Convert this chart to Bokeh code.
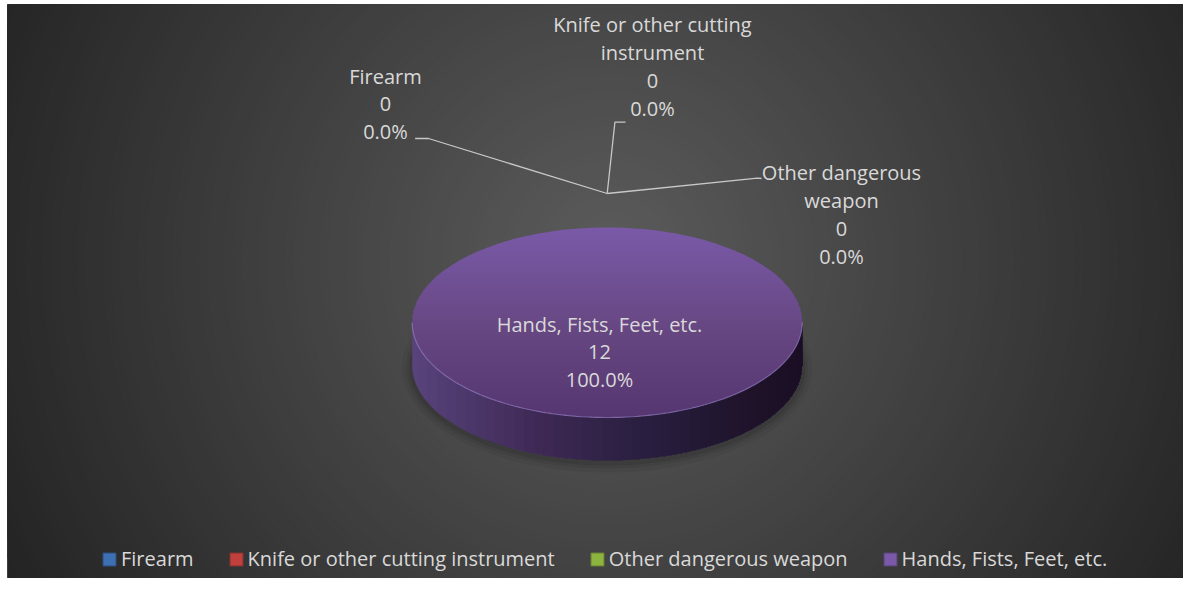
import math
import textwrap
import numpy as np
from bokeh.plotting import figure
from bokeh.models import Range1d, Legend, LegendItem
from bokeh.core.properties import value
from bokeh.embed import file_html
from bokeh.resources import INLINE

# ---------------- data ----------------
categories = ["Firearm", "Knife or other cutting instrument",
              "Other dangerous weapon", "Hands, Fists, Feet, etc."]
counts = [0, 0, 0, 12]
colors = ["#3d6fb3", "#c0403d", "#8db43e", "#7a5aa8"]

# ---------------- layout / style ----------------
W, H = 1183, 578
BL, BT = 7, 4          # white border left / top
FONT = "Open Sans"
FS = "20px"
TXT = "#d9d9d9"

pie_cx, pie_cy, pie_rx, pie_ry, pie_depth = 606.7, 322.0, 195.0, 95.0, 43.0
label_pos = [(385, 103.5), (652, 66), (841, 214), (599, 351.5)]
label_wrap = [30, 22, 16, 30]
leader_paths = [[(414.6, 138), (428, 138)],
                [(625, 121.7), (614.4, 121.7)],
                [(761, 178), (757, 177.7)],
                None]
leader_anchor = (606.7, 193.0)


def hex2rgb(h):
    h = h.lstrip("#")
    return tuple(int(h[i:i + 2], 16) for i in (0, 2, 4))


def rgb2hex(c):
    return "#%02x%02x%02x" % tuple(int(max(0, min(255, round(v)))) for v in c)


def scale(h, f):
    return rgb2hex([v * f for v in hex2rgb(h)])


p = figure(width=W, height=H, x_range=Range1d(BL, W), y_range=Range1d(H, BT),
           output_backend="svg", toolbar_location=None, x_axis_type=None, y_axis_type=None,
           min_border_left=BL, min_border_top=BT, min_border_right=0, min_border_bottom=0)
p.grid.visible = False
p.outline_line_color = None
p.background_fill_color = "#232323"
p.border_fill_color = "white"

# ---------------- radial background ----------------
gcx, gcy, GR = 610.0, 260.0, 690.0
radii = np.linspace(GR, 5, 80)
gcols = []
for r in radii:
    t = min(r / 680.0, 1.0)
    v = 92 - 56 * t
    gcols.append(rgb2hex((v, v, v)))
p.circle(x=[gcx] * len(radii), y=[gcy] * len(radii), radius=list(radii),
         fill_color=gcols, line_color=None)

# ---------------- pie geometry ----------------
cx, cy, rx, ry, dep = pie_cx, pie_cy, pie_rx, pie_ry, pie_depth


def pt(phi, dy=0.0):
    return cx + rx * math.sin(phi), cy - ry * math.cos(phi) + dy


total = float(sum(counts))
angles = []
acc = 0.0
for c in counts:
    a0 = acc / total * 2 * math.pi
    acc += c
    a1 = acc / total * 2 * math.pi
    angles.append((a0, a1))

# soft shadow under pie
for grow, al in [(10, 0.05), (6, 0.07), (3, 0.09)]:
    sx, sy = [], []
    for j in range(121):
        ph = j / 120 * 2 * math.pi
        sx.append(cx + (rx + grow) * math.sin(ph))
        sy.append(cy + dep + 2 - (ry + grow) * math.cos(ph))
    p.patch(sx, sy, fill_color="black", fill_alpha=al, line_color=None)

# side walls (front half only)
front0, front1 = math.pi / 2, 3 * math.pi / 2
for (a0, a1), c, v in zip(angles, colors, counts):
    if v <= 0:
        continue
    s, e = max(a0, front0), min(a1, front1)
    if e <= s:
        continue
    n = 80
    xs, ys = [], []
    for j in range(n + 1):
        x, y = pt(s + (e - s) * j / n)
        xs.append(x); ys.append(y)
    for j in range(n, -1, -1):
        x, y = pt(s + (e - s) * j / n, dep)
        xs.append(x); ys.append(y)
    p.patch(xs, ys, fill_color=scale(c, 0.74), line_color=None)

# side shading: darker towards the right
NS = 40
for k in range(NS):
    u = -1 + 2 * (k + 0.5) / NS
    phk = math.pi - math.asin(u)
    n = 40
    xs, ys = [], []
    for j in range(n + 1):
        x, y = pt(front0 + (phk - front0) * j / n)
        xs.append(x); ys.append(y)
    for j in range(n, -1, -1):
        x, y = pt(front0 + (phk - front0) * j / n, dep)
        xs.append(x); ys.append(y)
    p.patch(xs, ys, fill_color="black", fill_alpha=0.0223, line_color=None)

# top faces
for (a0, a1), c, v in zip(angles, colors, counts):
    if v <= 0:
        continue
    n = max(8, int(160 * (a1 - a0) / (2 * math.pi)))
    xs, ys = [], []
    if v < total:
        xs.append(cx); ys.append(cy)
    for j in range(n + 1):
        x, y = pt(a0 + (a1 - a0) * j / n)
        xs.append(x); ys.append(y)
    p.patch(xs, ys, fill_color=c, line_color=None)

# top shading: darker towards the bottom
NT = 36
for k in range(NT):
    yk = cy - ry + 2 * ry * (k + 0.5) / NT
    cc = max(-1.0, min(1.0, (cy - yk) / ry))
    a = math.acos(cc)
    n = 60
    xs, ys = [], []
    for j in range(n + 1):
        x, y = pt(a + (2 * math.pi - 2 * a) * j / n)
        xs.append(x); ys.append(y)
    p.patch(xs, ys, fill_color="black", fill_alpha=0.0075, line_color=None)

# rim highlight on front edge
rxs, rys = [], []
for j in range(121):
    x, y = pt(front0 + (front1 - front0) * j / 120)
    rxs.append(x); rys.append(y)
p.line(rxs, rys, line_color="#a48ad0", line_alpha=0.55, line_width=1.2)

# ---------------- leader lines ----------------
lxs, lys = [], []
for path in leader_paths:
    if path is None:
        continue
    lxs.append([q[0] for q in path] + [leader_anchor[0]])
    lys.append([q[1] for q in path] + [leader_anchor[1]])
p.multi_line(lxs, lys, line_color="#c8c8c8", line_width=1.3)

# ---------------- data labels ----------------
texts = []
for cat, v, w in zip(categories, counts, label_wrap):
    pct = v / total * 100
    texts.append(textwrap.fill(cat, w) + "\n" + f"{v}" + "\n" + f"{pct:.1f}%")
p.text(x=[q[0] for q in label_pos], y=[q[1] for q in label_pos], text=texts,
       text_align="center", text_baseline="middle", text_font=value(FONT),
       text_font_size=FS, text_color=TXT, text_line_height=1.03)

# ---------------- legend ----------------
nan = float("nan")
items = []
for cat, c in zip(categories, colors):
    r = p.quad(left=[nan], right=[nan], top=[nan], bottom=[nan],
               fill_color=c, line_color=scale(c, 0.8))
    items.append(LegendItem(label=cat, renderers=[r]))
legend = Legend(items=items, orientation="horizontal", location=(94, 6),
                glyph_width=16, glyph_height=16, label_standoff=4, spacing=34,
                label_height=26, padding=0, margin=0,
                background_fill_alpha=0, border_line_alpha=0,
                label_text_font=FONT, label_text_font_size=FS, label_text_color=TXT)
p.add_layout(legend)

open("out.html", "w").write(file_html(p, INLINE))
